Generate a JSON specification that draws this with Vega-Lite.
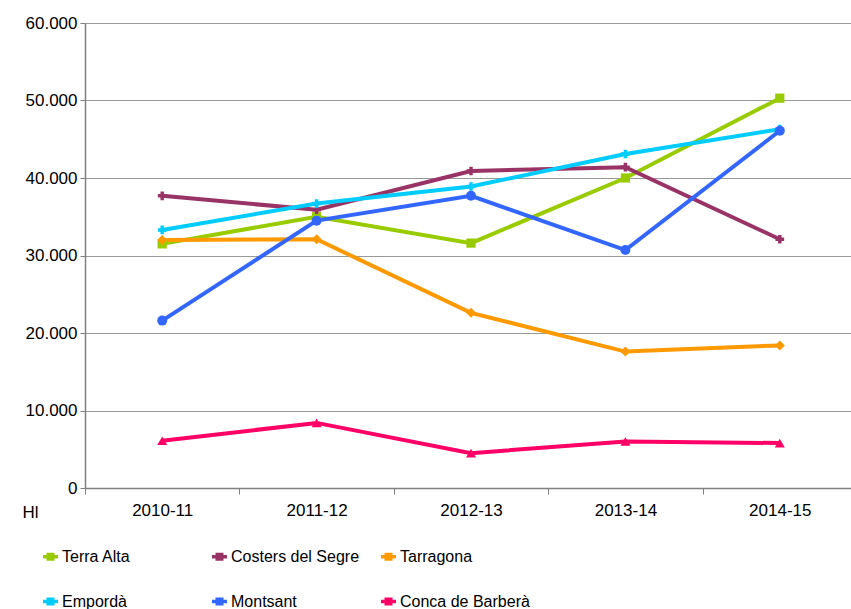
{
  "$schema": "https://vega.github.io/schema/vega-lite/v6.json",
  "width": 772,
  "height": 465,
  "autosize": "none",
  "padding": {"left": 85, "top": 23, "right": 0, "bottom": 121},
  "background": "white",
  "config": {
    "view": {"stroke": null},
    "font": "Liberation Sans"
  },
  "data": {
    "values": [
      {"serie": "Terra Alta", "campanya": "2010-11", "hl": 31500},
      {"serie": "Terra Alta", "campanya": "2011-12", "hl": 35000},
      {"serie": "Terra Alta", "campanya": "2012-13", "hl": 31600},
      {"serie": "Terra Alta", "campanya": "2013-14", "hl": 40000},
      {"serie": "Terra Alta", "campanya": "2014-15", "hl": 50300},
      {"serie": "Costers del Segre", "campanya": "2010-11", "hl": 37700},
      {"serie": "Costers del Segre", "campanya": "2011-12", "hl": 35900},
      {"serie": "Costers del Segre", "campanya": "2012-13", "hl": 40900},
      {"serie": "Costers del Segre", "campanya": "2013-14", "hl": 41400},
      {"serie": "Costers del Segre", "campanya": "2014-15", "hl": 32100},
      {"serie": "Tarragona", "campanya": "2010-11", "hl": 32000},
      {"serie": "Tarragona", "campanya": "2011-12", "hl": 32100},
      {"serie": "Tarragona", "campanya": "2012-13", "hl": 22600},
      {"serie": "Tarragona", "campanya": "2013-14", "hl": 17600},
      {"serie": "Tarragona", "campanya": "2014-15", "hl": 18400},
      {"serie": "Empordà", "campanya": "2010-11", "hl": 33300},
      {"serie": "Empordà", "campanya": "2011-12", "hl": 36700},
      {"serie": "Empordà", "campanya": "2012-13", "hl": 38900},
      {"serie": "Empordà", "campanya": "2013-14", "hl": 43100},
      {"serie": "Empordà", "campanya": "2014-15", "hl": 46300},
      {"serie": "Montsant", "campanya": "2010-11", "hl": 21600},
      {"serie": "Montsant", "campanya": "2011-12", "hl": 34500},
      {"serie": "Montsant", "campanya": "2012-13", "hl": 37700},
      {"serie": "Montsant", "campanya": "2013-14", "hl": 30700},
      {"serie": "Montsant", "campanya": "2014-15", "hl": 46100},
      {"serie": "Conca de Barberà", "campanya": "2010-11", "hl": 6100},
      {"serie": "Conca de Barberà", "campanya": "2011-12", "hl": 8400},
      {"serie": "Conca de Barberà", "campanya": "2012-13", "hl": 4500},
      {"serie": "Conca de Barberà", "campanya": "2013-14", "hl": 6000},
      {"serie": "Conca de Barberà", "campanya": "2014-15", "hl": 5800}
    ]
  },
  "encoding": {
    "x": {
      "field": "campanya",
      "type": "ordinal",
      "scale": {"type": "band", "paddingInner": 0, "paddingOuter": 0},
      "axis": {
        "title": null,
        "labelAngle": 0,
        "labelFontSize": 17,
        "labelColor": "black",
        "labelPadding": 8,
        "tickBand": "extent",
        "tickSize": 6,
        "tickColor": "#808080",
        "domainColor": "#808080",
        "domainWidth": 1.5,
        "grid": false
      }
    },
    "y": {
      "field": "hl",
      "type": "quantitative",
      "scale": {"domain": [0, 60000], "nice": false},
      "axis": {
        "values": [0, 10000, 20000, 30000, 40000, 50000, 60000],
        "labelExpr": "replace(format(datum.value, ','), ',', '.')",
        "labelFontSize": 17,
        "labelColor": "black",
        "labelPadding": 3,
        "tickSize": 5,
        "tickColor": "#808080",
        "domainColor": "#808080",
        "domainWidth": 1.5,
        "gridColor": "#999999",
        "gridWidth": 1.2,
        "title": "Hl",
        "titleAngle": 0,
        "titleFontSize": 17,
        "titleFontWeight": "normal",
        "titleColor": "black",
        "titleAlign": "left",
        "titleBaseline": "middle",
        "titleX": -63,
        "titleY": 489
      }
    },
    "color": {
      "field": "serie",
      "type": "nominal",
      "scale": {
        "domain": ["Terra Alta", "Costers del Segre", "Tarragona", "Empordà", "Montsant", "Conca de Barberà"],
        "range": ["#99CC00", "#993366", "#FF9900", "#00CCFF", "#3366FF", "#FF0066"]
      },
      "legend": {
        "title": null,
        "orient": "none",
        "legendX": -44,
        "legendY": 524,
        "direction": "horizontal",
        "columns": 3,
        "gridAlign": "all",
        "columnPadding": 13,
        "rowPadding": 26,
        "symbolType": "M-1,0H1M-0.3,-0.3H0.3V0.3H-0.3Z",
        "symbolSize": 225,
        "symbolStrokeWidth": 3.5,
        "labelFont": "Liberation Sans",
        "labelFontSize": 16,
        "labelColor": "black",
        "labelOffset": 2,
        "labelLimit": 300,
        "encode": {
          "symbols": {
            "update": {
              "fill": {"scale": "color", "field": "value"},
              "fillOpacity": {"value": 1},
              "opacity": {"value": 1}
            }
          }
        }
      }
    }
  },
  "layer": [
    {
      "mark": {"type": "line", "strokeWidth": 4},
      "encoding": {}
    },
    {
      "transform": [{"filter": "datum.serie == 'Terra Alta'"}],
      "mark": {"type": "point", "filled": true, "opacity": 1, "size": 85, "shape": "square"},
      "encoding": {}
    },
    {
      "transform": [{"filter": "datum.serie == 'Costers del Segre'"}],
      "mark": {"type": "point", "filled": true, "opacity": 1, "size": 75, "shape": "cross"},
      "encoding": {}
    },
    {
      "transform": [{"filter": "datum.serie == 'Tarragona'"}],
      "mark": {"type": "point", "filled": true, "opacity": 1, "size": 100, "shape": "diamond"},
      "encoding": {}
    },
    {
      "transform": [{"filter": "datum.serie == 'Empordà'"}],
      "mark": {"type": "point", "filled": true, "opacity": 1, "size": 75, "shape": "cross"},
      "encoding": {}
    },
    {
      "transform": [{"filter": "datum.serie == 'Montsant'"}],
      "mark": {"type": "point", "filled": true, "opacity": 1, "size": 100, "shape": "circle"},
      "encoding": {}
    },
    {
      "transform": [{"filter": "datum.serie == 'Conca de Barberà'"}],
      "mark": {"type": "point", "filled": true, "opacity": 1, "size": 100, "shape": "triangle-up"},
      "encoding": {}
    }
  ]
}
